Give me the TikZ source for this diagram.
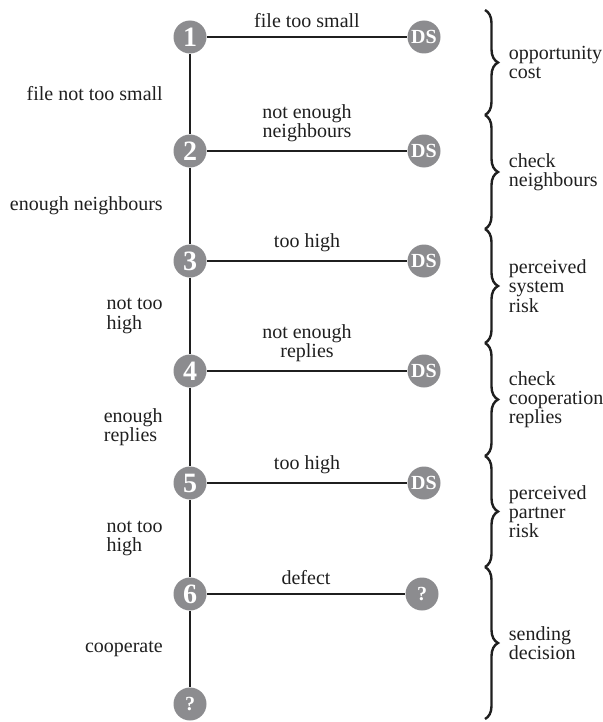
\documentclass[tikz,border=0pt]{standalone}
\usepackage{fontspec}
\setmainfont{Liberation Serif}
\usetikzlibrary{decorations.pathreplacing}

\begin{document}
\begin{tikzpicture}[x=0.5pt, y=-0.5pt, stepdot/.style={circle, fill=dgGrey, inner sep=0pt, minimum size=16.5pt, text=white, font=\fontsize{14}{14}\selectfont\bfseries}, outdot/.style={stepdot, font=\fontsize{10}{10}\selectfont\bfseries}, wire/.style={line width=0.6pt, dgInk}, lab/.style={font=\fontsize{10}{9.6}\selectfont, text=dgInk}, phase/.style={decorate, decoration={brace, amplitude=6.5pt}, line width=1.2pt, dgInk}]
\definecolor{dgGrey}{rgb}{0.55,0.55,0.56}
\definecolor{dgInk}{rgb}{0.12,0.12,0.12}
\useasboundingbox (0,0) rectangle (603,722);
% decision steps down the left
\node[stepdot] (n1) at (190,37) {1};
\node[stepdot] (n2) at (190,151) {2};
\node[stepdot] (n3) at (190,261) {3};
\node[stepdot] (n4) at (190,371) {4};
\node[stepdot] (n5) at (190,483) {5};
\node[stepdot] (n6) at (190,594) {6};
\node[outdot] (q6) at (190,704) {?};
% exits to the right
\node[outdot] (ds1) at (424,37) {DS};
\node[outdot] (ds2) at (424,151) {DS};
\node[outdot] (ds3) at (424,261) {DS};
\node[outdot] (ds4) at (424,371) {DS};
\node[outdot] (ds5) at (424,483) {DS};
\node[outdot] (q5) at (422,594) {?};
\draw[wire] (n1) -- node[lab, above=1pt] {file too small} (ds1);
\draw[wire] (n2) -- node[lab, above=1pt, align=center] {not enough\\neighbours} (ds2);
\draw[wire] (n3) -- node[lab, above=1pt] {too high} (ds3);
\draw[wire] (n4) -- node[lab, above=1pt, align=center] {not enough\\replies} (ds4);
\draw[wire] (n5) -- node[lab, above=1pt] {too high} (ds5);
\draw[wire] (n6) -- node[lab, above=1pt] {defect} (q5);
\draw[wire] (n1) -- node[lab, left=10pt] {file not too small} (n2);
\draw[wire] (n2) -- node[lab, left=10pt] {enough neighbours} (n3);
\draw[wire] (n3) -- node[lab, left=10pt, align=left] {not too\\high} (n4);
\draw[wire] (n4) -- node[lab, left=10pt, align=left] {enough\\replies} (n5);
\draw[wire] (n5) -- node[lab, left=10pt, align=left] {not too\\high} (n6);
\draw[wire] (n6) -- node[lab, left=10pt] {cooperate} (q6);
% phases
\draw[phase] (485,10) -- node[lab, right=8pt, align=left] {opportunity\\cost} (485,115);
\draw[phase] (485,115) -- node[lab, right=8pt, align=left] {check\\neighbours} (485,229);
\draw[phase] (485,229) -- node[lab, right=8pt, align=left] {perceived\\system\\risk} (485,343);
\draw[phase] (485,343) -- node[lab, right=8pt, align=left] {check\\cooperation\\replies} (485,456);
\draw[phase] (485,456) -- node[lab, right=8pt, align=left] {perceived\\partner\\risk} (485,567);
\draw[phase] (485,567) -- node[lab, right=8pt, align=left] {sending\\decision} (485,719);
\end{tikzpicture}
\end{document}
